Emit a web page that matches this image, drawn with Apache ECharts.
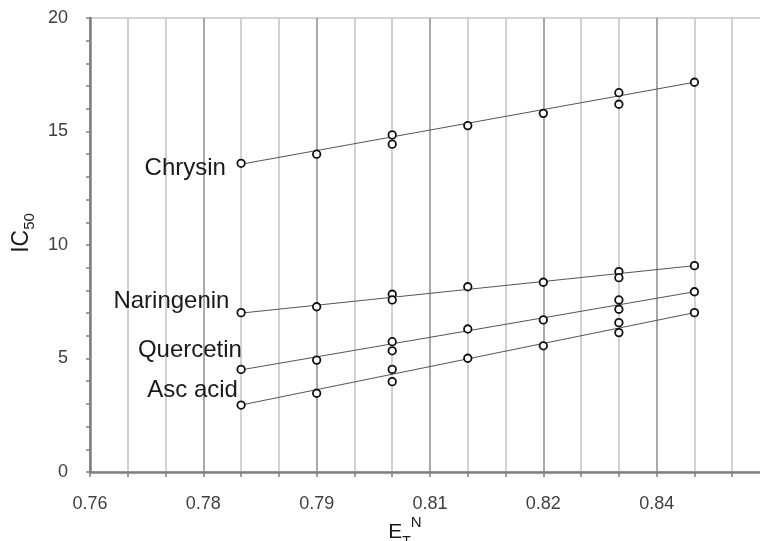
<!DOCTYPE html>
<html>
<head>
<meta charset="utf-8">
<script src="https://cdn.jsdelivr.net/npm/echarts@6/dist/echarts.min.js"></script>
<style>
  html, body { margin: 0; padding: 0; background: #fff; }
  #main { width: 760px; height: 541px; }
</style>
</head>
<body>
<div id="main"></div>
<script>
// x 轴刻度
const xMin = 0.76, xMax = 0.85, xStep = 0.015;
const xTickLabels = ['0.76', '0.78', '0.79', '0.81', '0.82', '0.84'];

// 溶剂 E_T^N 值（0.80、0.83 各有两个点）
const xVals = [0.78, 0.79, 0.80, 0.80, 0.81, 0.82, 0.83, 0.83, 0.84];

// 各化合物 IC50
const names = ['Chrysin', 'Naringenin', 'Quercetin', 'Asc acid'];
const chrysin = [13.6, 14.0, 14.85, 14.44, 15.26, 15.8, 16.71, 16.2, 17.17];
const naringenin = [7.02, 7.28, 7.83, 7.58, 8.16, 8.36, 8.83, 8.56, 9.09];
const quercetin = [4.52, 4.93, 5.74, 5.34, 6.3, 6.7, 7.58, 7.17, 7.94];
const ascAcid = [2.95, 3.47, 4.52, 3.98, 5.01, 5.56, 6.58, 6.14, 7.02];

// 趋势线两端
const fitX = [0.78, 0.84];
const fitStart = [13.56, 7.0, 4.5, 2.95];
const fitEnd = [17.17, 9.09, 7.94, 7.02];

// 名称标签位置
const labelDist = [10.5, 7, -5.5, -1.5];
const labelDy = [5, -11, -19, -15];

const allY = [chrysin, naringenin, quercetin, ascAcid];
const font = "'Liberation Sans', Arial, sans-serif";

let series = [];

allY.forEach((ys, k) => {
    series.push({
        type: 'line',
        data: [[fitX[0], fitStart[k]], [fitX[1], fitEnd[k]]],
        symbol: 'none',
        lineStyle: { color: '#555', width: 1 },
        z: 2,
        silent: true
    });
});

allY.forEach((ys, k) => {
    series.push({
        name: names[k],
        type: 'scatter',
        symbol: 'circle',
        symbolSize: 7.5,
        itemStyle: { color: '#fff', borderColor: '#111', borderWidth: 1.8, opacity: 1 },
        z: 3,
        data: xVals.map((x, i) => i === 0 ? {
            value: [x, ys[i]],
            label: {
                show: true,
                formatter: names[k],
                position: 'left',
                distance: labelDist[k],
                offset: [0, labelDy[k]],
                color: '#1a1a1a',
                fontSize: 24,
                fontFamily: font
            }
        } : [x, ys[i]])
    });
});

let myChart = echarts.init(document.getElementById('main'));
myChart.setOption({
    animation: false,
    backgroundColor: '#fff',
    grid: {
        left: 90,
        right: -10,
        top: 18,
        bottom: 69,
        outerBoundsMode: 'none',
        containLabel: false,
        show: true,
        borderColor: '#c8c8c8',
        borderWidth: 1.5
    },
    xAxis: {
        type: 'value',
        min: xMin,
        max: xMax,
        interval: xStep,
        name: '{e|E}{t|T}{n|N}',
        nameLocation: 'middle',
        nameGap: 43,
        nameMoveOverlap: false,
        nameTextStyle: {
            padding: [0, 50, 0, 0],
            rich: {
                e: { fontSize: 21, lineHeight: 34, color: '#1a1a1a', fontFamily: font },
                t: { fontSize: 14, lineHeight: 18, verticalAlign: 'bottom', color: '#1a1a1a', fontFamily: font },
                n: { fontSize: 15, lineHeight: 2, verticalAlign: 'top', color: '#1a1a1a', fontFamily: font }
            }
        },
        axisLine: { show: true, lineStyle: { color: '#808080', width: 2.5 } },
        axisTick: { show: true, length: 5, lineStyle: { color: '#808080', width: 1.5 } },
        minorTick: { show: true, splitNumber: 3, length: 5, lineStyle: { color: '#808080', width: 1.5 } },
        splitLine: { show: true, lineStyle: { color: '#8c8c8c', width: 1.5 } },
        minorSplitLine: { show: true, lineStyle: { color: '#c4c4c4', width: 1.5 } },
        axisLabel: {
            margin: 23,
            fontSize: 18,
            color: '#404040',
            fontFamily: font,
            showMaxLabel: false,
            formatter: function (v) {
                return xTickLabels[Math.round((v - xMin) / xStep)] || '';
            }
        }
    },
    yAxis: {
        type: 'value',
        min: 0,
        max: 20,
        interval: 5,
        name: '{a|IC}{b|50}',
        nameLocation: 'middle',
        nameGap: 50,
        nameRotate: 90,
        nameTextStyle: {
            padding: [0, 0, 0, 24],
            rich: {
                a: { fontSize: 23, lineHeight: 30, color: '#1a1a1a', fontFamily: font },
                b: { fontSize: 15, lineHeight: 14, verticalAlign: 'bottom', color: '#1a1a1a', fontFamily: font }
            }
        },
        axisLine: { show: true, lineStyle: { color: '#808080', width: 2.5 } },
        axisTick: { show: true, length: 4, lineStyle: { color: '#808080', width: 1.5 } },
        minorTick: { show: true, splitNumber: 5, length: 4, lineStyle: { color: '#808080', width: 1.5 } },
        splitLine: { show: false },
        axisLabel: { margin: 22, fontSize: 18, color: '#404040', fontFamily: font }
    },
    series: series
});
</script>
</body>
</html>
